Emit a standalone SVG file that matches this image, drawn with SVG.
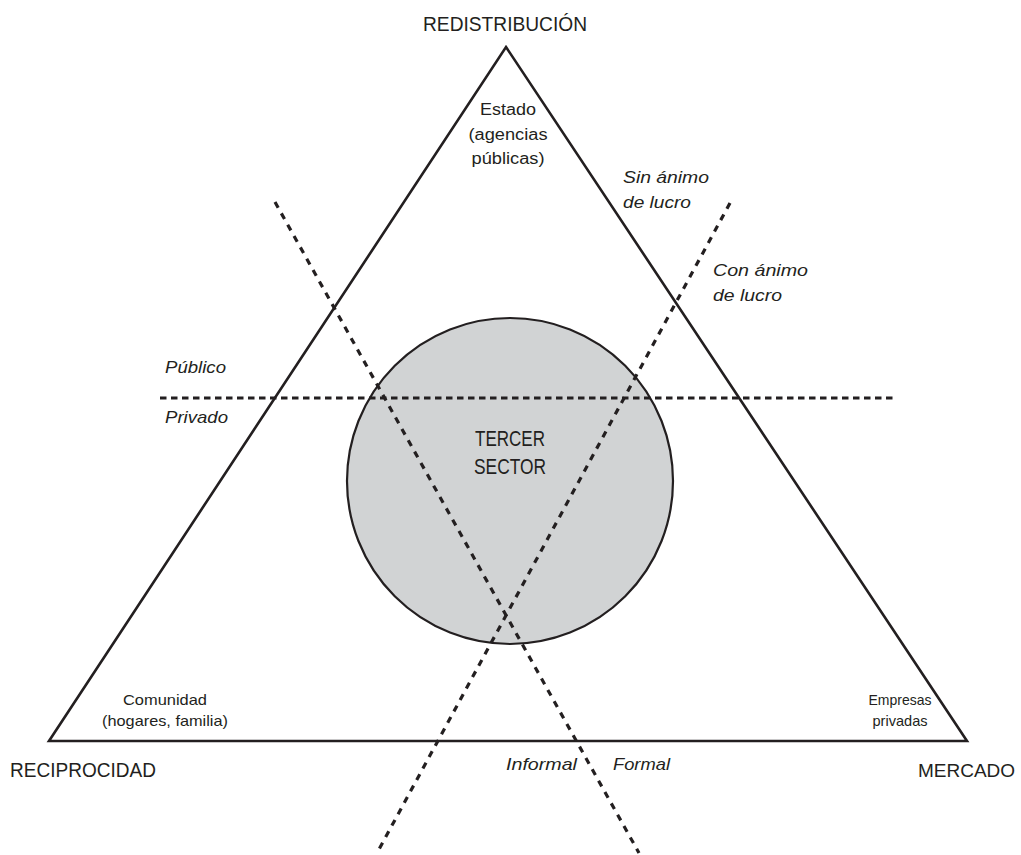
<svg xmlns="http://www.w3.org/2000/svg" width="1021" height="855" viewBox="0 0 1021 855">
<style>
text{font-family:"Liberation Sans",Arial,sans-serif;fill:#231f20}
.big{font-size:21px}
.mid{font-size:16px}
.sm{font-size:15px}
.it{font-size:17px;font-style:italic}
.ts{font-size:22px}
.tri{fill:none;stroke:#231f20;stroke-width:2.6;stroke-linejoin:miter}
.dh{stroke:#231f20;stroke-width:3;stroke-dasharray:6.5 4.5;fill:none}
.dd{stroke:#231f20;stroke-width:3.2;stroke-dasharray:6.5 6.5;fill:none}
</style>
<rect width="1021" height="855" fill="#fff"/>
<g id="tercer-sector">
<circle cx="510" cy="481" r="163" fill="#d1d3d4" stroke="#231f20" stroke-width="2.2"/>
<text class="ts" x="510" y="446" text-anchor="middle" textLength="70" lengthAdjust="spacingAndGlyphs">TERCER</text>
<text class="ts" x="510" y="474" text-anchor="middle" textLength="72" lengthAdjust="spacingAndGlyphs">SECTOR</text>
</g>
<g id="triangle">
<polygon class="tri" points="506,47 967,741 49,741"/>
</g>
<g id="connectors">
<line class="dh" x1="160" y1="398" x2="897" y2="398"/>
<line class="dd" x1="275" y1="202" x2="639" y2="853"/>
<line class="dd" x1="730" y1="203" x2="377" y2="853"/>
</g>
<g id="redistribucion">
<text class="big" x="505" y="31" text-anchor="middle" textLength="164" lengthAdjust="spacingAndGlyphs">REDISTRIBUCIÓN</text>
<text class="mid" x="508" y="115" text-anchor="middle" textLength="56" lengthAdjust="spacingAndGlyphs">Estado</text>
<text class="mid" x="508" y="140" text-anchor="middle" textLength="79" lengthAdjust="spacingAndGlyphs">(agencias</text>
<text class="mid" x="508" y="164" text-anchor="middle" textLength="73" lengthAdjust="spacingAndGlyphs">públicas)</text>
</g>
<g id="reciprocidad">
<text class="big" x="10" y="777" textLength="146" lengthAdjust="spacingAndGlyphs">RECIPROCIDAD</text>
<text class="sm" x="165" y="705" text-anchor="middle" textLength="84" lengthAdjust="spacingAndGlyphs">Comunidad</text>
<text class="sm" x="165" y="726" text-anchor="middle" textLength="126" lengthAdjust="spacingAndGlyphs">(hogares, familia)</text>
</g>
<g id="mercado">
<text x="918" y="777" style="font-size:19px">MERCADO</text>
<text class="sm" x="900" y="705" text-anchor="middle" textLength="63" lengthAdjust="spacingAndGlyphs">Empresas</text>
<text class="sm" x="900" y="726" text-anchor="middle" textLength="55" lengthAdjust="spacingAndGlyphs">privadas</text>
</g>
<g id="labels">
<text class="it" x="623" y="183" textLength="86" lengthAdjust="spacingAndGlyphs">Sin ánimo</text>
<text class="it" x="623" y="208" textLength="68" lengthAdjust="spacingAndGlyphs">de lucro</text>
<text class="it" x="713" y="276" textLength="95" lengthAdjust="spacingAndGlyphs">Con ánimo</text>
<text class="it" x="713" y="301" textLength="69" lengthAdjust="spacingAndGlyphs">de lucro</text>
<text class="it" x="165" y="373" textLength="61" lengthAdjust="spacingAndGlyphs">Público</text>
<text class="it" x="165" y="423" textLength="63" lengthAdjust="spacingAndGlyphs">Privado</text>
<text class="it" x="506" y="770" textLength="71" lengthAdjust="spacingAndGlyphs">Informal</text>
<text class="it" x="613" y="770" textLength="57" lengthAdjust="spacingAndGlyphs">Formal</text>
</g>
</svg>
